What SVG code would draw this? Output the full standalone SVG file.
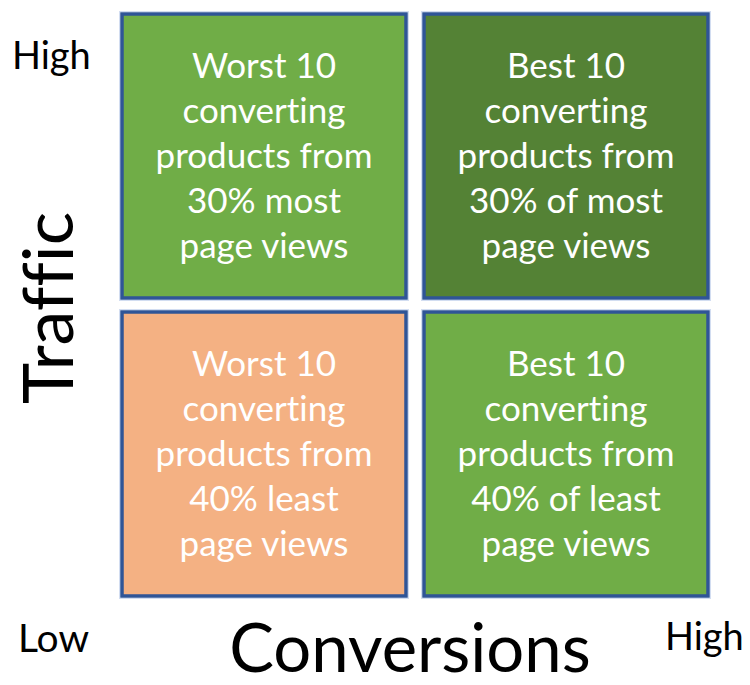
<svg xmlns="http://www.w3.org/2000/svg" width="750" height="685" viewBox="0 0 750 685">
  <style>
    text { font-variant-ligatures: none; font-feature-settings: "liga" 0, "clig" 0; }
    .box { stroke: #2F5597; stroke-width: 3.5; }
    .halo { fill: none; stroke: #B4C7E7; stroke-width: 1; opacity: 0.6; }
    .g1 { fill: #70AD47; }
    .g2 { fill: #548235; }
    .or { fill: #F4B183; }
    .bt { font-family: Lato, "Open Sans", "Liberation Sans", sans-serif; font-size: 35px; fill: #FFFFFF; text-anchor: middle; }
    .ax { font-family: Lato, "Open Sans", "Liberation Sans", sans-serif; fill: #000000; }
  </style>
  <rect width="750" height="685" fill="#FFFFFF"/>
  <g id="connectors"></g>
  <g id="node-tl">
    <rect class="halo" x="119.5" y="11.5" width="289" height="289"/>
    <rect class="box g1" x="122" y="14" width="284" height="284"/>
    <text class="bt" x="264" y="78">Worst 10</text>
    <text class="bt" x="264" y="123">converting</text>
    <text class="bt" x="264" y="168">products from</text>
    <text class="bt" x="264" y="213">30% most</text>
    <text class="bt" x="264" y="258">page views</text>
  </g>
  <g id="node-tr">
    <rect class="halo" x="421.5" y="11.5" width="289" height="289"/>
    <rect class="box g2" x="424" y="14" width="284" height="284"/>
    <text class="bt" x="566" y="78">Best 10</text>
    <text class="bt" x="566" y="123">converting</text>
    <text class="bt" x="566" y="168">products from</text>
    <text class="bt" x="566" y="213">30% of most</text>
    <text class="bt" x="566" y="258">page views</text>
  </g>
  <g id="node-bl">
    <rect class="halo" x="119.5" y="309.5" width="289" height="289"/>
    <rect class="box or" x="122" y="312" width="284" height="284"/>
    <text class="bt" x="264" y="376">Worst 10</text>
    <text class="bt" x="264" y="421">converting</text>
    <text class="bt" x="264" y="466">products from</text>
    <text class="bt" x="264" y="511">40% least</text>
    <text class="bt" x="264" y="556">page views</text>
  </g>
  <g id="node-br">
    <rect class="halo" x="421.5" y="309.5" width="289" height="289"/>
    <rect class="box g1" x="424" y="312" width="284" height="284"/>
    <text class="bt" x="566" y="376">Best 10</text>
    <text class="bt" x="566" y="421">converting</text>
    <text class="bt" x="566" y="466">products from</text>
    <text class="bt" x="566" y="511">40% of least</text>
    <text class="bt" x="566" y="556">page views</text>
  </g>
  <g id="labels">
    <text class="ax" x="12" y="69" font-size="38">High</text>
    <text class="ax" x="18" y="652" font-size="39">Low</text>
    <text class="ax" x="665" y="650" font-size="38">High</text>
    <text class="ax" x="0" y="0" font-size="70" text-anchor="middle" transform="translate(73,308) rotate(-90)">Traffic</text>
    <text class="ax" x="410" y="672" font-size="67" text-anchor="middle">Conversions</text>
  </g>
</svg>
